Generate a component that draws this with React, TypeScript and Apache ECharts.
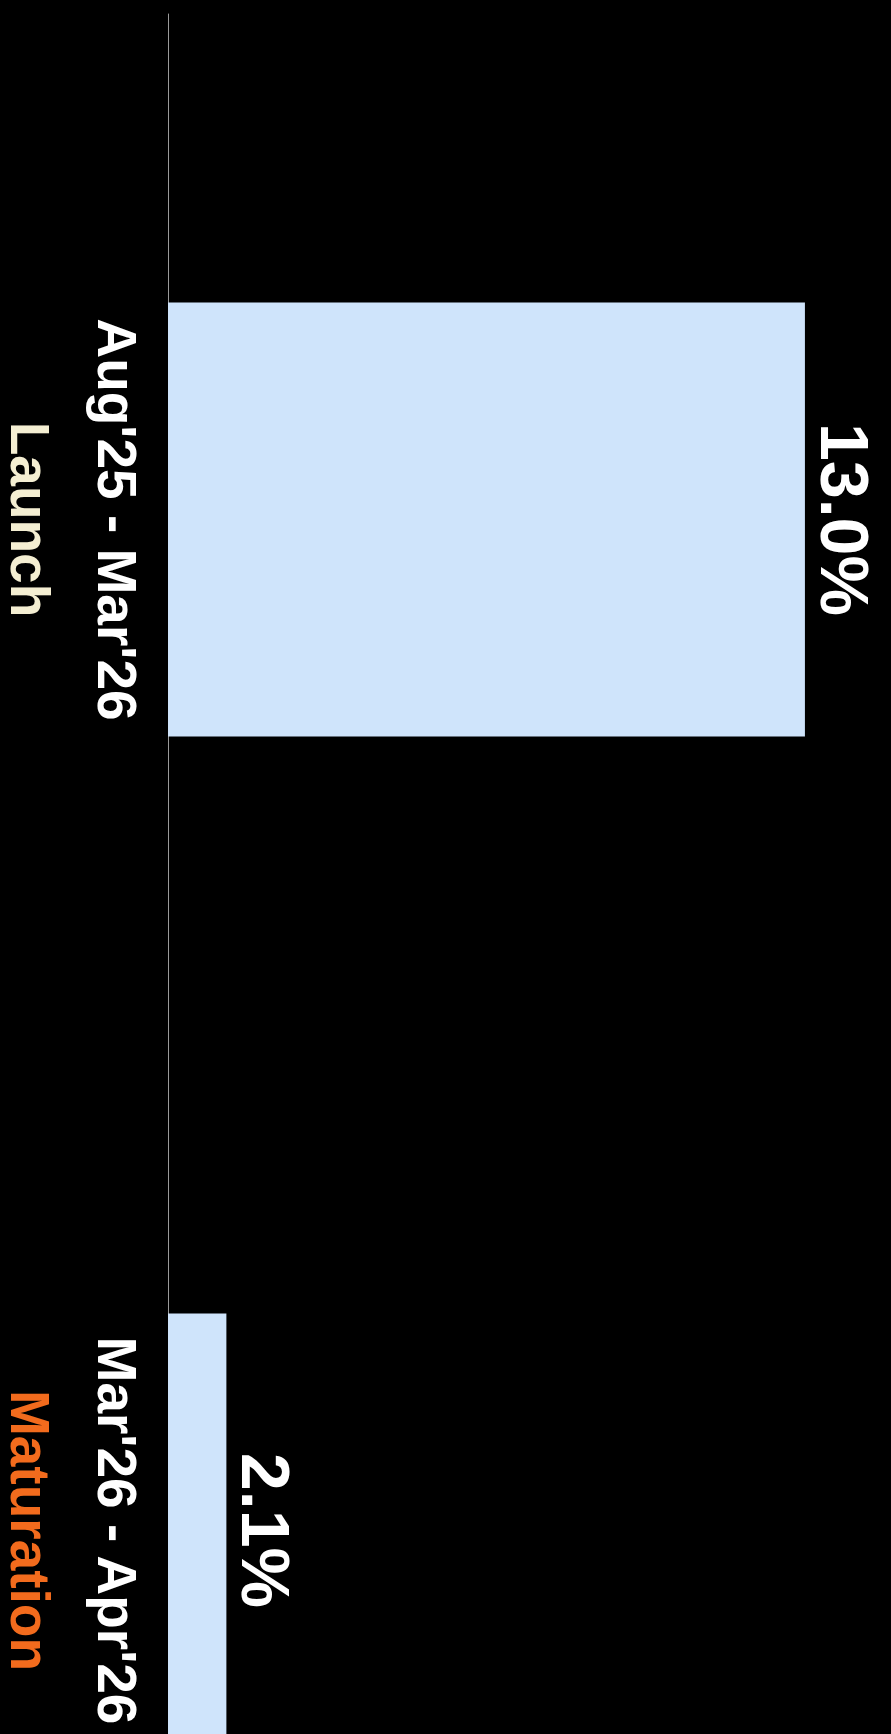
import React, { useEffect, useRef } from "react";
import * as echarts from "echarts";

const categories = ["Aug'25 - Mar'26", "Mar'26 - Apr'26"];
const phases = ["Launch", "Maturation"];
const phaseColors = ["#f4eed2", "#f26b1d"];
const values = [13.0, 2.1];

const FONT = "'Liberation Sans', Arial, Helvetica, sans-serif";

export default function App() {
  const ref = useRef<HTMLDivElement>(null);
  useEffect(() => {
    if (!ref.current) return;
    const chart = echarts.init(ref.current, null, { renderer: "svg" });
    const rich: any = {
      a: {
        color: "#ffffff",
        fontSize: 55,
        fontWeight: "bold",
        fontFamily: FONT,
        lineHeight: 87,
      },
    };
    phases.forEach((_, i) => {
      rich["p" + i] = {
        color: phaseColors[i],
        fontSize: 55,
        fontWeight: "bold",
        fontFamily: FONT,
        lineHeight: 87,
      };
    });
    chart.setOption({
      animation: false,
      backgroundColor: "#000000",
      grid: {
        left: 168,
        top: 14,
        right: 33,
        height: 2022,
        containLabel: false,
        outerBoundsMode: "none",
      },
      xAxis: {
        type: "value",
        min: 1,
        max: 14,
        show: false,
      },
      yAxis: {
        type: "category",
        data: categories,
        inverse: true,
        axisLine: { show: true, lineStyle: { color: "#9a9a9a", width: 1 } },
        axisTick: { show: false },
        splitLine: { show: false },
        axisLabel: {
          rotate: -90,
          align: "center",
          verticalAlign: "top",
          margin: 8,
          formatter: (v: string, i: number) => `{a|${v}}\n{p${i}|${phases[i]}}`,
          rich,
        },
      },
      series: [
        {
          type: "bar",
          data: values,
          barWidth: 434,
          itemStyle: { color: "#cfe4fb" },
          label: {
            show: true,
            position: "right",
            distance: 6,
            rotate: -90,
            align: "center",
            verticalAlign: "bottom",
            color: "#ffffff",
            fontSize: 68,
            fontWeight: "bold",
            fontFamily: FONT,
            formatter: (p: any) => Number(p.value).toFixed(1) + "%",
          },
        },
      ],
    });
    return () => chart.dispose();
  }, []);
  return (
    <div
      ref={ref}
      style={{
        position: "fixed",
        left: 0,
        top: 0,
        width: 891,
        height: 1734,
        background: "#000",
      }}
    />
  );
}
